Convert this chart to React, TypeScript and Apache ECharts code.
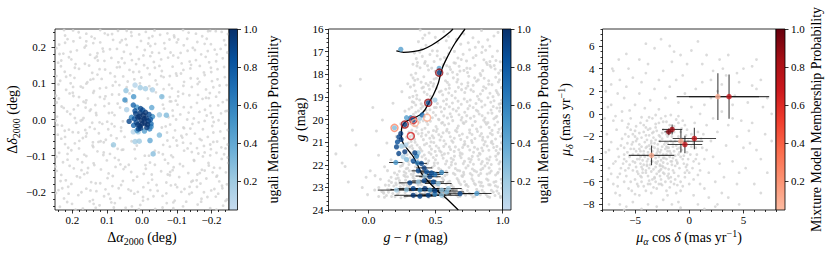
import React, { useEffect, useRef } from 'react';
import * as echarts from 'echarts';

// ---------------- Panel 1: spatial distribution ----------------
const spatialTicks = [-0.2, -0.1, 0, 0.1, 0.2];
// field stars: pairs of (dRA, dDec) in milli-degrees
const spatialField = [
  236,-241,201,-233,170,-246,122,-237,88,-229,47,-244,5,-236,-38,-247,-71,-231,-118,-240,-160,-235,-196,-245,-233,-238,
  224,-218,183,-209,141,-222,109,-212,63,-217,22,-205,-17,-220,-59,-211,-94,-224,-136,-206,-171,-219,-212,-213,-244,-221,
  240,-195,212,-186,160,-191,131,-198,85,-184,39,-193,-4,-187,-45,-197,-83,-182,-122,-192,-158,-186,-199,-196,-230,-183,
  219,-168,178,-160,146,-173,99,-162,55,-170,14,-158,-29,-166,-70,-174,-107,-159,-146,-169,-185,-163,-222,-171,
  245,-142,196,-135,157,-147,118,-138,76,-131,31,-145,-11,-136,-55,-143,-91,-132,-133,-148,-172,-139,-207,-133,-241,-146,
  227,-118,185,-110,139,-121,101,-113,62,-124,19,-108,-23,-119,-66,-111,-109,-123,-150,-114,-191,-120,-229,-109,
  238,-92,203,-85,166,-97,128,-88,92,-95,54,-83,-48,-91,-84,-99,-121,-86,-162,-94,-198,-82,-236,-96,
  221,-68,180,-59,142,-72,110,-63,-61,-70,-99,-58,-140,-66,-178,-73,-216,-61,-246,-69,
  242,-42,199,-35,161,-47,124,-38,89,-44,-72,-36,-113,-45,-152,-39,-189,-48,-225,-33,
  230,-17,189,-9,150,-21,114,-12,79,-19,-81,-14,-119,-22,-163,-8,-202,-18,-239,-11,
  244,8,206,15,168,4,131,12,95,18,-76,6,-110,14,-149,3,-186,11,-227,17,
  225,32,184,39,147,28,108,37,70,44,-63,30,-102,41,-141,34,-181,27,-219,39,
  239,58,197,65,160,53,121,62,86,69,49,55,-58,64,-97,52,-136,67,-174,57,-213,63,-244,54,
  218,82,176,91,138,79,103,88,65,95,28,80,-21,92,-62,84,-104,77,-143,90,-184,83,-223,94,
  235,107,194,115,157,103,116,112,78,119,41,105,2,116,-39,108,-80,120,-121,104,-160,113,-201,106,-238,117,
  222,132,181,140,143,129,106,138,64,145,25,131,-16,142,-57,134,-98,127,-139,141,-178,130,-217,139,
  241,157,203,166,164,154,127,163,88,170,50,156,9,167,-34,159,-75,171,-114,155,-155,164,-193,158,-232,169,
  226,182,187,191,149,179,111,188,72,195,33,181,-8,192,-49,184,-90,177,-131,190,-170,180,-209,193,-245,185,
  238,207,197,216,161,204,120,213,83,220,44,206,3,217,-38,209,-79,221,-120,205,-159,214,-198,208,-236,219,
  221,232,182,241,145,229,107,238,69,245,30,231,-11,242,-52,234,-93,227,-134,240,-173,230,-212,244,-247,236,
  215,-228,150,-226,78,-231,-3,-224,-90,-229,-170,-227,-240,-225,
  247,-203,174,-201,96,-206,12,-200,-70,-204,-143,-202,-219,-205,
  203,-178,120,-176,60,-181,-18,-175,-96,-180,-168,-177,-244,-179,
  232,-153,166,-151,84,-156,-5,-150,-80,-154,-159,-152,-216,-155,
  208,-128,137,-126,48,-131,-37,-125,-118,-129,-192,-127,
  246,-103,160,-101,78,-106,-8,-100,-89,-104,-175,-102,-246,-105,
  212,-78,140,-76,70,-81,15,-72,-80,-75,-158,-79,-228,-77,
  232,-53,170,-51,104,-56,50,-48,-90,-50,-166,-54,-236,-52,
  210,-28,136,-26,60,-22,-95,-30,-175,-27,-246,-29,
  248,-3,172,-1,100,-6,-98,0,-180,-4,-220,-2,
  215,22,150,24,86,19,55,-5,-88,25,-165,21,-240,23,
  245,47,168,49,95,44,-80,50,-158,46,-232,48,
  208,72,140,74,66,69,-40,75,-118,71,-195,73,
  240,97,160,99,84,94,6,100,-78,96,-160,98,-243,95,
  206,122,128,124,54,119,-22,125,-100,121,-180,123,
  233,147,152,149,72,144,-6,150,-88,146,-166,148,-236,145,
  210,172,130,174,58,169,-24,175,-104,171,-183,173,
  246,197,165,199,92,194,14,200,-66,196,-146,198,-226,195,
  214,222,136,224,58,219,-20,225,-104,221,-186,223,
  198,246,120,247,44,245,-36,246,-118,247,-196,245,
  191,-249,133,-244,29,-240,-90,-245,-214,-249,
  229,-190,105,-193,-24,-195,-137,-186,-208,-192,
  174,-140,53,-137,-81,-145,-180,-141,
  214,-95,110,-91,-60,-96,-143,-90,-214,-92,
  193,-66,125,-62,-118,-64,-196,-69,
  222,-31,159,-38,-128,-41,-205,-36,
  193,4,143,-9,-130,0,-203,6,
  231,36,162,33,-120,34,-196,38,
  181,62,105,64,-80,62,-192,59,
  198,90,121,86,44,89,-86,86,-205,89,
  218,118,140,112,22,111,-62,117,-140,114,-217,111,
  193,143,122,139,36,137,-37,143,-119,137,-198,143,
  232,163,108,162,29,164,-55,166,-137,160,-213,161,
  205,187,128,183,52,187,-29,185,-111,184,-189,189,
  221,212,140,211,63,213,-18,210,-100,213,-180,209,
  160,237,86,236,8,235,-73,238,-155,237,-229,242,
  -3,-214,67,-190,133,-176,187,-157,249,-130,172,-118,96,-149,25,-168,-42,-181,-113,-200,-188,-214,-231,-190,
  -157,-168,-88,-140,-28,-152,38,-125,111,-98,181,-80,221,-48,163,-29,87,-12,132,18,196,28,247,66,170,88,
  91,128,17,153,-55,120,-119,93,-184,60,-245,24,-206,-7,-139,-25,-73,-58,-37,-86,21,-82,73,-52,97,-27,63,33,
  108,57,36,72,-17,58,-60,41,-89,10,-57,-22,-101,-72,-149,-112,-203,-146,-178,-201,-127,-227,-59,-243,9,-248,
  81,-243,139,-233,211,-205,234,-170,155,-134,67,-112,-10,-126,-74,-152,-142,-172,-214,-158,-248,-120,-196,-99,
  -131,-80,-75,-121,-20,-100,30,-60,58,-84,79,12,122,-8,162,46,205,100,148,110,76,104,8,132,-50,148,-112,127,
  -165,104,-222,75,-199,131,-141,151,-82,185,-24,203,47,222,113,196,178,226,237,181,191,153,135,170,68,158,
  -4,177,-64,211,-130,223,-190,244,-240,206,-215,180,-152,192,-92,232,-30,230,31,241,98,234,160,216,224,247,
  246,120,199,74,134,40,119,-60,183,-36,243,-15,176,-3,214,-111,148,-196,91,-219,32,-197,-33,-212,-101,-187,
  -166,-148,-224,-134,-180,-91,-116,-50,-145,-12,-198,18,-161,68,-104,64,-43,97,-25,84,44,48,-68,-19,60,-32,
  -84,50,-134,19,-205,-62,-240,-80,-171,-57,-121,-24,85,-72,141,-63,
];
// ugali members: [dRA (deg), dDec (deg), membership probability]
const spatialMembers = [
  [0.046,0.08,0.25],[0.02,0.095,0.12],[0.005,0.088,0.2],[-0.01,0.085,0.18],[-0.03,0.082,0.15],[-0.057,0.063,0.3],
  [0.049,0.054,0.55],[0.024,0.063,0.5],[0.044,0.027,0.15],[0.025,0.04,0.75],[0.015,0.034,0.5],[-0.028,0.033,0.4],
  [-0.05,0.013,0.2],[-0.07,0.012,0.3],[-0.026,-0.02,0.55],[0.011,-0.034,0.2],[0.025,-0.034,0.12],[-0.007,-0.032,0.45],
  [-0.05,-0.043,0.3],[-0.023,-0.058,0.4],[0.082,-0.07,0.22],[0.02,-0.061,0.18],[0.008,-0.06,0.2],[-0.032,-0.095,0.28],
  [-0.026,-0.012,0.7],[0.024,-0.016,0.75],[0.03,0.006,0.6],[-0.03,0.008,0.55],[-0.022,-0.026,0.6],[0.014,-0.03,0.5],
  [-0.002,0.026,0.8],[0.022,0.002,0.85],[-0.024,0.0,0.8],[0.02,0.024,0.85],[-0.02,0.014,0.88],
  [0.005,0.018,0.95],[-0.004,0.012,1.0],[0.012,0.006,0.98],[-0.012,0.004,0.97],[0.002,-0.002,1.0],[0.016,-0.008,0.9],
  [-0.008,-0.01,1.0],[0.006,-0.018,0.96],[-0.018,-0.004,0.92],[0.01,-0.026,0.9],[-0.014,-0.022,0.95],[0.0,-0.012,1.0],
  [0.018,0.016,0.93],[-0.006,0.002,1.0],[0.008,0.008,0.99],[0.037,-0.005,0.9],[-0.01,0.02,0.97],[0.004,0.03,0.9],
  [-0.016,-0.014,0.98],[0.012,-0.014,0.96],[0.004,-0.024,0.94],
];

// ---------------- Panel 2: colour-magnitude diagram ----------------
const cmdXTicks = [0, 0.5, 1.0];
const cmdYTicks = [16, 17, 18, 19, 20, 21, 22, 23, 24];
// field stars: pairs of (g-r in milli-mag, g in centi-mag)
const cmdField = [
  385,1604,452,1618,561,1611,712,1622,843,1607,936,1631,404,1641,498,1637,655,1645,779,1639,890,1648,967,1615,
  372,1656,428,1672,517,1661,603,1683,688,1667,754,1692,821,1658,905,1676,962,1697,395,1689,476,1696,580,1652,641,1699,797,1681,874,1694,
  342,1706,401,1721,458,1713,536,1734,598,1709,667,1728,731,1741,802,1717,861,1736,925,1722,983,1745,365,1748,489,1744,566,1726,637,1749,706,1712,845,1704,951,1739,
  331,1756,384,1771,440,1762,497,1787,555,1758,612,1779,676,1765,739,1792,793,1760,852,1784,914,1769,971,1795,352,1796,418,1752,471,1773,589,1798,648,1751,712,1783,886,1757,945,1777,
  318,1803,367,1822,412,1811,463,1836,521,1807,574,1829,633,1816,694,1843,748,1809,806,1831,863,1818,921,1846,977,1824,339,1848,392,1835,446,1849,489,1821,601,1847,662,1801,781,1849,838,1805,949,1813,
  312,1856,349,1874,398,1861,437,1889,482,1853,529,1878,576,1866,622,1894,671,1858,718,1881,764,1869,813,1897,859,1855,906,1884,953,1872,992,1859,331,1898,415,1879,461,1897,553,1891,648,1876,741,1852,835,1887,929,1899,
  305,1903,338,1925,381,1914,426,1938,471,1907,514,1929,559,1918,603,1944,647,1905,692,1933,736,1921,781,1947,824,1911,869,1936,912,1924,958,1949,994,1915,322,1946,359,1908,404,1942,537,1945,626,1927,714,1909,802,1929,891,1904,975,1932,
  302,1954,335,1977,372,1962,417,1988,458,1957,501,1981,544,1966,588,1993,631,1955,675,1979,718,1968,761,1994,805,1959,848,1983,892,1971,935,1997,978,1963,318,1996,391,1951,438,1974,522,1999,566,1952,609,1975,697,1991,742,1952,826,1976,914,1958,957,1986,
  306,2004,341,2027,379,2012,421,2039,461,2008,503,2031,545,2016,586,2043,628,2005,670,2029,712,2018,754,2046,796,2009,838,2033,880,2021,922,2048,964,2011,996,2037,323,2047,398,2045,442,2022,484,2049,526,2001,567,2024,649,2049,691,2002,775,2026,859,2003,901,2035,943,2024,
  301,2055,336,2078,371,2063,409,2089,447,2056,486,2081,524,2067,563,2094,601,2058,640,2083,678,2071,717,2097,755,2059,794,2084,832,2072,871,2098,909,2061,948,2086,986,2074,318,2097,354,2052,428,2069,466,2099,505,2053,543,2076,582,2051,659,2054,736,2079,813,2053,851,2091,890,2077,967,2057,
  296,2104,329,2128,362,2113,398,2139,433,2106,469,2131,505,2117,541,2144,576,2108,612,2133,648,2121,684,2147,719,2109,755,2135,791,2123,827,2149,862,2111,898,2136,934,2124,970,2148,992,2103,314,2148,347,2101,381,2124,451,2146,487,2102,523,2126,594,2149,630,2101,702,2124,773,2102,845,2126,916,2102,952,2137,
  287,2156,318,2179,349,2164,383,2188,416,2157,449,2182,483,2168,516,2193,549,2158,583,2184,616,2171,649,2196,683,2159,716,2185,749,2173,783,2198,816,2161,849,2186,883,2174,916,2199,949,2162,982,2187,301,2199,333,2151,366,2176,399,2165,433,2197,466,2153,499,2178,566,2152,633,2178,699,2152,766,2177,833,2153,899,2179,966,2152,
  238,2207,265,2231,291,2215,318,2242,349,2209,381,2233,412,2218,444,2246,475,2211,507,2236,538,2222,570,2248,601,2212,633,2238,664,2224,696,2249,727,2214,759,2239,790,2226,822,2247,853,2216,885,2241,916,2228,948,2245,979,2219,214,2244,252,2203,304,2227,333,2248,365,2202,428,2225,491,2203,554,2229,617,2201,680,2227,743,2204,806,2231,869,2205,
  152,2271,188,2294,221,2259,249,2283,276,2268,303,2296,331,2256,358,2281,386,2269,413,2297,441,2258,468,2284,496,2271,523,2298,551,2259,578,2286,606,2273,633,2299,661,2261,688,2287,716,2274,743,2296,771,2262,798,2288,826,2276,853,2295,881,2263,908,2289,936,2277,963,2298,990,2264,168,2255,236,2297,290,2253,344,2276,399,2254,454,2278,509,2253,592,2277,702,2252,
  98,2318,133,2336,164,2309,197,2341,226,2322,257,2304,284,2338,312,2317,339,2343,367,2308,394,2331,422,2319,449,2345,477,2311,504,2334,532,2321,559,2344,587,2307,614,2332,642,2324,669,2341,697,2312,724,2335,752,2326,779,2342,807,2309,834,2333,862,2323,889,2340,917,2313,944,2336,972,2327,995,2304,118,2344,180,2327,241,2346,298,2303,354,2327,435,2302,518,2306,
  -245,2152,-212,1851,-198,2192,-176,2208,-152,2276,-121,2047,-95,2113,-62,1822,-48,2301,-19,2255,12,2227,31,1947,45,2312,58,2051,74,2158,88,2264,103,2002,119,2209,136,2104,151,2291,167,2178,182,1928,193,2236,206,2075,221,2158,239,2019,248,1877,262,2121,271,1963,283,2078,292,1842,257,2194,274,2252,231,2281,206,2288,141,2226,76,2301,109,2321,48,2248,-8,2332,
  356,1731,423,1744,512,1718,583,1762,627,1791,734,1773,781,1727,879,1748,938,1761,
  332,1816,409,1857,486,1842,542,1874,603,1862,659,1834,727,1862,792,1816,852,1872,897,1829,961,1881,
  326,1922,392,1931,448,1919,505,1947,581,1933,668,1919,755,1939,842,1919,931,1943,987,1929,
  344,1987,408,2006,476,1992,553,2013,619,1988,706,2014,787,1986,871,2012,948,1991,
  330,2068,394,2074,457,2083,533,2091,610,2076,688,2088,772,2066,853,2079,924,2067,
  322,2116,388,2132,457,2118,530,2138,603,2121,673,2134,742,2118,814,2131,885,2117,958,2119,
  296,2186,362,2191,426,2174,490,2192,557,2171,620,2189,691,2169,758,2188,823,2177,887,2193,957,2178,
  278,2238,336,2226,398,2241,455,2231,516,2244,580,2229,645,2243,709,2233,772,2246,838,2222,904,2236,968,2233,
  203,2281,262,2289,318,2276,371,2289,427,2276,482,2292,539,2279,621,2291,676,2279,731,2287,789,2283,842,2279,897,2288,951,2274,
  148,2321,215,2332,272,2323,326,2331,381,2319,437,2333,491,2322,546,2329,601,2319,656,2334,711,2326,766,2332,821,2319,877,2331,931,2321,984,2339,
  361,1763,447,1781,526,1790,604,1768,682,1786,758,1775,833,1797,907,1761,986,1783,
  345,1827,428,1841,505,1818,588,1836,666,1823,742,1838,819,1825,897,1844,969,1834,
  360,1893,454,1866,507,1862,598,1883,694,1868,783,1876,876,1862,970,1890,
  352,1936,447,1921,491,1947,582,1911,671,1949,759,1914,847,1945,937,1917,982,1948,
  352,1968,429,1959,483,1969,561,1984,655,1962,733,1983,816,1964,869,1994,921,1972,999,1978,
  361,2034,433,2011,512,2042,598,2019,662,2039,727,2009,806,2042,891,2014,975,2043,313,2018,
  343,2088,398,2061,475,2072,556,2059,621,2094,700,2064,769,2093,843,2062,920,2096,997,2062,311,2075,
  338,2141,417,2112,497,2141,561,2119,639,2141,711,2113,784,2145,853,2138,928,2108,983,2131,306,2122,
  310,2169,372,2158,440,2193,507,2159,574,2197,641,2162,707,2195,774,2163,841,2196,907,2166,973,2196,
  280,2218,337,2236,396,2212,460,2238,523,2216,586,2242,648,2217,711,2243,775,2219,837,2239,900,2214,962,2238,229,2229,263,2247,
  170,2278,230,2270,286,2291,340,2262,394,2288,449,2266,505,2290,560,2268,616,2292,670,2269,725,2290,781,2271,836,2293,892,2268,947,2293,996,2281,125,2290,205,2262,
  113,2326,171,2340,228,2311,270,2343,325,2312,384,2343,408,2314,463,2337,520,2314,574,2342,629,2311,684,2339,738,2314,793,2339,848,2313,904,2344,958,2316,985,2345,75,2340,142,2308,
  420,1627,596,1633,744,1661,851,1679,382,1702,513,1697,692,1735,906,1744,
];
// ugali members: [g-r, g, probability, g-r error]
const cmdMembers = [
  [0.24,16.9,0.45,0],[0.527,17.74,0.4,0],[0.527,17.93,0.95,0],[0.495,19.14,0.2,0],[0.445,19.26,0.92,0],[0.4,19.8,0.7,0],
  [0.283,19.92,0.45,0],[0.315,19.92,0.6,0],[0.383,19.95,0.2,0],[0.333,20.03,0.92,0],[0.27,20.22,0.97,0],[0.193,20.37,0.3,0],
  [0.24,20.62,0.95,0],[0.225,20.77,0.9,0],[0.243,20.88,0.95,0],[0.215,20.99,0.85,0],[0.208,21.21,0.9,0],[0.245,21.18,0.2,0],
  [0.278,21.13,0.15,0],[0.27,21.43,0.95,0],[0.225,21.5,0.9,0],[0.258,21.65,0.15,0],[0.283,21.77,0.3,0],[0.345,21.47,0.9,0],
  [0.358,21.62,0.6,0],[0.37,21.47,0.25,0],[0.333,21.83,0.85,0],[0.365,21.92,0.6,0.04],[0.203,21.9,0.5,0.05],[0.395,21.94,0.9,0.04],
  [0.415,22.14,0.95,0.06],[0.37,22.27,0.9,0.05],[0.433,22.31,0.85,0.06],[0.47,22.36,0.85,0.07],[0.495,22.43,0.7,0.06],
  [0.545,22.34,0.55,0.05],[0.42,22.5,0.2,0.07],[0.458,22.53,0.9,0.08],[0.308,22.8,0.9,0.08],[0.37,22.76,0.2,0.08],
  [0.415,22.71,0.9,0.09],[0.483,22.76,0.85,0.08],[0.52,22.83,0.25,0.1],[0.208,23.12,0.2,0.14],[0.283,23.1,0.25,0.12],
  [0.333,23.05,0.9,0.12],[0.383,23.12,0.55,0.12],[0.42,23.05,0.95,0.1],[0.458,23.12,0.5,0.11],[0.495,23.15,0.9,0.12],
  [0.545,23.12,0.25,0.12],[0.595,23.05,0.2,0.1],[0.583,23.2,0.3,0.13],[0.333,23.35,0.95,0.14],[0.383,23.39,0.9,0.12],
  [0.445,23.35,0.9,0.13],[0.495,23.3,0.6,0.12],[0.545,23.35,0.25,0.13],[0.683,23.28,0.9,0.1],[0.808,23.27,0.5,0.11],
];
// mixture-model members: [g-r, g, probability]
const cmdMixtureMembers = [
  [0.527,17.93,0.9],[0.445,19.26,0.88],[0.333,20.03,0.7],[0.27,20.22,0.85],
  [0.345,20.15,0.1],[0.437,19.92,0.1],[0.193,20.37,0.25],[0.315,20.73,0.65],
];
const isochroneMain = [
  [0.72,16.0],[0.645,16.63],[0.583,17.3],[0.545,17.81],[0.52,18.4],[0.483,18.92],[0.448,19.28],[0.42,19.58],
  [0.383,19.8],[0.333,19.95],[0.29,20.05],[0.26,20.2],[0.245,20.45],[0.245,20.75],[0.258,21.05],[0.295,21.35],
  [0.333,21.64],[0.365,22.0],[0.395,22.38],[0.458,22.82],[0.52,23.19],[0.583,23.5],[0.67,24.0],
];
const isochroneHB = [
  [0.207,16.97],[0.26,17.03],[0.33,17.0],[0.407,16.9],[0.47,16.72],[0.53,16.49],[0.61,16.12],[0.63,16.0],
];

// ---------------- Panel 3: proper motions ----------------
const pmXTicks = [-5, 0, 5];
const pmYTicks = [-8, -6, -4, -2, 0, 2, 4, 6];
// field stars: pairs (pmra cos dec, pmdec) in 0.1 mas/yr
const pmField = [
  -30,-35,-22,-31,-38,-40,-27,-46,-35,-26,-18,-38,-42,-33,-25,-22,-33,-49,-15,-29,-45,-44,-20,-44,-37,-19,-28,-38,-12,-41,
  -41,-25,-24,-52,-32,-30,-17,-24,-47,-36,-29,-27,-36,-45,-21,-36,-40,-50,-14,-33,-26,-41,-33,-21,-44,-29,-19,-49,-31,-43,
  -23,-27,-38,-34,-10,-36,-28,-51,-35,-38,-16,-45,-43,-41,-26,-32,-39,-23,-21,-40,-31,-47,-12,-28,-46,-31,-24,-36,-34,-29,
  -18,-33,-37,-48,-27,-24,-41,-38,-15,-39,-29,-42,-22,-48,-36,-31,-13,-46,-33,-37,-25,-29,-44,-47,-20,-26,-30,-53,-39,-42,
  -17,-35,-27,-45,-35,-24,-23,-39,-48,-40,-11,-31,-32,-26,-42,-45,-26,-49,-19,-30,
  -60,-30,-55,-45,-52,-18,-58,-55,-48,-62,-40,-68,-30,-66,-18,-65,-8,-60,0,-52,4,-42,6,-30,2,-18,-4,-10,-12,-5,-22,-2,
  -34,-4,-45,-8,-54,-14,-62,-22,-65,-38,-63,-48,-50,-58,-36,-62,-22,-60,-10,-55,-3,-47,1,-36,-1,-24,-8,-16,-18,-10,-28,-8,
  -40,-12,-50,-20,-57,-34,-52,-50,-44,-56,-26,-58,-14,-52,-6,-40,-4,-28,-14,-16,-24,-14,-36,-13,-46,-17,-53,-27,-58,-42,
  -47,-53,-32,-56,-19,-57,-9,-48,-2,-34,-6,-22,-16,-13,-30,-15,-42,-16,-49,-24,-55,-38,-49,-47,-38,-55,-23,-53,-11,-44,
  -7,-32,-10,-20,-21,-18,-34,-17,-44,-21,-51,-31,-46,-40,-40,-52,-27,-55,-15,-50,-8,-38,-9,-25,-20,-20,-38,-14,-57,-26,
  -61,-44,-54,-60,-42,-64,-28,-62,-14,-62,-4,-56,3,-48,7,-36,5,-22,-2,-14,-10,-8,-26,-4,-39,-6,-49,-11,-59,-18,-66,-31,
  -64,-53,-56,-66,-35,-70,-21,-68,-6,-64,8,-54,9,-44,12,-30,8,-16,-6,-6,-17,-1,-31,-1,-44,-3,-56,-9,-67,-14,-68,-42,
  -60,-60,-46,-72,-12,-70,10,-62,14,-40,11,-22,-54,-4,-62,-6,
  -72,-25,-74,-48,-70,-62,-64,-72,-52,-78,-38,-80,-24,-76,-10,-78,4,-72,14,-66,18,-52,22,-38,20,-24,16,-10,10,0,2,6,
  -10,10,-22,14,-36,12,-50,8,-62,2,-70,-6,-76,-18,-68,-70,-58,-82,-30,-82,-16,-80,8,-80,24,-60,28,-44,26,-16,22,-4,
  14,8,-4,18,-18,24,-32,22,-46,18,-60,14,-72,8,-77,-34,-75,-58,18,-74,30,-70,34,-28,30,2,20,14,6,22,-12,30,-28,30,
  -44,28,-58,24,-66,18,-78,-4,32,-56,40,-42,36,-10,26,20,12,28,-6,34,-24,38,-40,36,-52,32,-64,30,-72,26,44,-20,40,8,
  30,26,-2,44,-16,46,-38,44,-56,40,-70,38,-75,6,36,-74,44,-62,50,-30,48,-6,42,16,20,30,-8,52,
  -58,53,-46,48,-32,58,-18,60,2,56,12,44,22,38,34,34,46,28,54,10,58,-8,56,-26,52,-48,46,-80,60,-62,66,-40,70,-18,
  68,6,62,22,50,40,28,48,14,-84,-64,-80,-74,-80,44,36,58,42,66,-70,72,-52,8,64,-26,66,-40,62,62,48,24,-82,76,0,
  36,52,-8,-83,46,-52,66,30,
  -25,-17,-31,-12,-16,-20,-9,-30,-39,-29,-48,-22,-52,-36,-50,-43,-43,-52,-34,-58,-20,-55,-13,-58,-5,-44,-1,-40,
  -27,-34,-29,-31,-20,-33,-24,-43,-35,-42,-38,-37,-31,-39,-17,-42,-13,-37,-24,-47,-30,-44,-39,-46,-45,-38,-40,-30,
  -34,-33,-21,-29,-15,-26,-27,-20,-33,-16,-45,-33,-52,-25,-54,-31,-48,-51,-38,-62,-25,-63,-11,-63,-2,-50,2,-29,
  -7,-13,-21,-7,-31,-9,-42,-10,-56,-20,-60,-36,-59,-50,-44,-60,-31,-60,-17,-60,-4,-52,6,-40,4,-26,-3,-19,
  -29,-33,-24,-39,-34,-42,-20,-30,-37,-28,-27,-50,-42,-36,-16,-42,-31,-23,-25,-46,-39,-45,-22,-25,-35,-51,-46,-27,
  -19,-53,-13,-24,-43,-49,-28,-19,-49,-33,-11,-43,-32,-57,-40,-19,-17,-56,-52,-42,-21,-15,-56,-48,-9,-34,-37,-59,
  -45,-55,-5,-37,-26,-62,-50,-15,-14,-11,-60,-40,-33,-65,-2,-45,-47,-64,-57,-12,-24,-7,-63,-28,-8,-68,-70,-44,
  -37,-3,-72,-53,-10,-2,-66,-64,0,-62,-50,-71,5,-8,-28,4,-41,5,-55,3,-68,-2,10,-50,16,-32,13,-18,4,-58,-20,-72,
  -74,-32,-66,-56,-53,-68,-71,40,-65,48,31,40,16,52,-14,55,40,-4,55,-15,62,-32,26,-80,-44,-84,76,-24,72,14,58,25,
  -77,20,-60,-85,38,-88,
];
// mixture-model members: [pmra cos dec, pmdec, probability, pmra err, pmdec err]
const pmMembers = [
  [-3.48,-3.67,0.1,2.1,0.87],[-0.77,-2.42,0.1,2.05,1.0],[2.64,1.52,0.1,3.8,2.07],[3.67,1.52,0.72,3.7,1.95],
  [-0.4,-2.71,0.72,1.6,0.77],[0.47,-2.18,0.72,2.0,0.96],[-1.58,-1.38,0.85,0.93,0.44],[-1.89,-1.59,0.92,0.4,0.3],
];

const colorbarTicks = [0.2, 0.4, 0.6, 0.8, 1.0];
const BLUES = ['#c6dbef', '#9ecae1', '#6baed6', '#4292c6', '#2171b5', '#08519c', '#08306b'];
const REDS = ['#fcbba1', '#fc9272', '#fb6a4a', '#ef3b2c', '#cb181d', '#a50f15', '#67000d'];

const SERIF = 'Liberation Serif, DejaVu Serif, serif';
const TICK_FONT = 11;
const NAME_FONT = 14;

function hexRgb(h: string) {
  return [parseInt(h.slice(1, 3), 16), parseInt(h.slice(3, 5), 16), parseInt(h.slice(5, 7), 16)];
}
function cmap(stops: string[], v: number) {
  const t = Math.min(1, Math.max(0, (v - 0.05) / 0.95));
  const f = t * (stops.length - 1);
  const i = Math.min(stops.length - 2, Math.floor(f));
  const u = f - i;
  const a = hexRgb(stops[i]);
  const b = hexRgb(stops[i + 1]);
  const c = a.map((x, k) => Math.round(x + (b[k] - x) * u));
  return `rgb(${c[0]},${c[1]},${c[2]})`;
}
function pairs(arr: number[], sx: number, sy: number) {
  const out: number[][] = [];
  for (let i = 0; i + 1 < arr.length; i += 2) out.push([arr[i] * sx, arr[i + 1] * sy]);
  return out;
}
function minorTicks(from: number, to: number, step: number, majors: number[]) {
  const out: number[] = [];
  const n = Math.round((to - from) / step);
  for (let i = 0; i <= n; i++) {
    const v = +(from + i * step).toFixed(6);
    if (!majors.some((m) => Math.abs(m - v) < 1e-6)) out.push(v);
  }
  return out;
}
const fmt1 = (v: number) => (v < -1e-9 ? '\u2212' : '') + Math.abs(v).toFixed(1);
const fmt0 = (v: number) => (v < -1e-9 ? '\u2212' : '') + Math.abs(v).toFixed(0);

const tickLine = { color: '#000', width: 0.8 };

function majorAxis(gridIndex: number, min: number, max: number, position: string, ticks: number[], fmt: (v: number) => string, margin: number, inverse = false) {
  return {
    type: 'value', gridIndex, min, max, position, inverse,
    splitLine: { show: false },
    axisLine: { show: false, onZero: false },
    axisTick: { show: true, inside: false, length: 3.5, customValues: ticks, lineStyle: tickLine },
    axisLabel: { show: true, customValues: ticks, formatter: fmt, margin, fontFamily: SERIF, fontSize: TICK_FONT, color: '#000' },
  };
}
function minorAxis(gridIndex: number, min: number, max: number, position: string, ticks: number[], inverse = false) {
  return {
    type: 'value', gridIndex, min, max, position, inverse,
    splitLine: { show: false },
    axisLine: { show: false, onZero: false },
    axisTick: { show: true, inside: false, length: 2, customValues: ticks, lineStyle: tickLine },
    axisLabel: { show: false },
  };
}

const GRID_TOP = 29;
const GRID_H = 181;
const panels = [
  { left: 55, width: 174, cbw: 8.5 },
  { left: 328.5, width: 174, cbw: 8.5 },
  { left: 602.5, width: 173.5, cbw: 9 },
];

const rich = {
  r: { fontFamily: SERIF, fontSize: NAME_FONT, fill: '#000', lineHeight: 18 },
  i: { fontFamily: SERIF, fontSize: NAME_FONT, fontStyle: 'italic', fill: '#000', lineHeight: 18 },
  s: { fontFamily: SERIF, fontSize: 10, fill: '#000', lineHeight: 10, verticalAlign: 'bottom' },
  si: { fontFamily: SERIF, fontSize: 10, fontStyle: 'italic', fill: '#000', lineHeight: 10, verticalAlign: 'bottom' },
  p: { fontFamily: SERIF, fontSize: 10, fill: '#000', lineHeight: 10, verticalAlign: 'top' },
};
function nameText(x: number, y: number, text: string, vertical: boolean) {
  return {
    type: 'text', x, y, rotation: vertical ? Math.PI / 2 : 0, silent: true, z: 100,
    style: { text, rich, align: 'center', verticalAlign: 'middle', fontFamily: SERIF, fontSize: NAME_FONT, fill: '#000' },
  };
}

function colorbarSeries(idx: number, stops: string[]) {
  return {
    type: 'custom', xAxisIndex: 6 + idx, yAxisIndex: 6 + idx, silent: true,
    data: [[0, 0.05]],
    renderItem: (_p: any, api: any) => {
      const a = api.coord([0, 1]);
      const b = api.coord([1, 0.05]);
      return {
        type: 'rect',
        shape: { x: a[0], y: a[1], width: b[0] - a[0], height: b[1] - a[1] },
        style: {
          fill: new echarts.graphic.LinearGradient(0, 1, 0, 0, stops.map((c, k) => ({ offset: k / (stops.length - 1), color: c }))),
          stroke: '#000', lineWidth: 0.8,
        },
      };
    },
  };
}

function buildOption() {
  const grids: any[] = [];
  panels.forEach((p) => {
    grids.push({ left: p.left, top: GRID_TOP, width: p.width, height: GRID_H, show: true, borderColor: '#000', borderWidth: 0.8, backgroundColor: 'transparent', containLabel: false, outerBoundsMode: 'none' });
  });
  panels.forEach((p) => {
    grids.push({ left: p.left + p.width, top: GRID_TOP, width: p.cbw, height: GRID_H, show: false, containLabel: false, outerBoundsMode: 'none' });
  });

  const sMinor = minorTicks(-0.24, 0.24, 0.02, spatialTicks);
  const xAxes: any[] = [
    majorAxis(0, -0.25, 0.25, 'bottom', spatialTicks, fmt1, 4.5, true),
    minorAxis(0, -0.25, 0.25, 'bottom', sMinor, true),
    majorAxis(1, -0.3, 1.0, 'bottom', cmdXTicks, fmt1, 4.5),
    minorAxis(1, -0.3, 1.0, 'bottom', minorTicks(-0.3, 1.0, 0.1, cmdXTicks)),
    majorAxis(2, -8, 8, 'bottom', pmXTicks, fmt0, 4.5),
    minorAxis(2, -8, 8, 'bottom', minorTicks(-8, 8, 1, pmXTicks)),
    { type: 'value', gridIndex: 3, min: 0, max: 1, show: false },
    { type: 'value', gridIndex: 4, min: 0, max: 1, show: false },
    { type: 'value', gridIndex: 5, min: 0, max: 1, show: false },
  ];
  const cbAxis = (g: number) => ({
    type: 'value', gridIndex: g, min: 0.05, max: 1, position: 'right',
    splitLine: { show: false }, axisLine: { show: false, onZero: false },
    axisTick: { show: true, inside: false, length: 3.5, customValues: colorbarTicks, lineStyle: tickLine },
    axisLabel: { show: true, customValues: colorbarTicks, formatter: fmt1, margin: 6, fontFamily: SERIF, fontSize: TICK_FONT, color: '#000' },
  });
  const yAxes: any[] = [
    majorAxis(0, -0.25, 0.25, 'left', spatialTicks, fmt1, 9),
    minorAxis(0, -0.25, 0.25, 'left', sMinor),
    majorAxis(1, 16, 24, 'left', cmdYTicks, fmt0, 5, true),
    minorAxis(1, 16, 24, 'left', minorTicks(16, 24, 0.2, cmdYTicks), true),
    majorAxis(2, -8.5, 7.5, 'left', pmYTicks, fmt0, 8),
    minorAxis(2, -8.5, 7.5, 'left', minorTicks(-8.5, 7.5, 0.5, pmYTicks)),
    cbAxis(3), cbAxis(4), cbAxis(5),
  ];

  const byProb = (a: number[], b: number[]) => a[2] - b[2];
  const GRAY = '#d2d2d2';
  const series: any[] = [
    {
      type: 'scatter', xAxisIndex: 0, yAxisIndex: 0, silent: true, clip: true, z: 1,
      symbolSize: 2.8, itemStyle: { color: GRAY }, data: pairs(spatialField, 0.001, 0.001),
    },
    {
      type: 'scatter', xAxisIndex: 0, yAxisIndex: 0, silent: true, clip: true, z: 3, symbolSize: 5.5,
      data: [...spatialMembers].sort(byProb).map((m) => ({ value: [m[0], m[1]], itemStyle: { color: cmap(BLUES, m[2]) } })),
    },
    {
      type: 'scatter', xAxisIndex: 2, yAxisIndex: 2, silent: true, clip: true, z: 1,
      symbolSize: 3, itemStyle: { color: GRAY }, data: pairs(cmdField, 0.001, 0.01),
    },
    {
      type: 'custom', xAxisIndex: 2, yAxisIndex: 2, silent: true, clip: true, z: 2,
      data: cmdMembers.filter((m) => m[3] > 0).map((m) => [m[0], m[1], m[3]]),
      renderItem: (_p: any, api: any) => {
        const x = api.value(0), y = api.value(1), e = api.value(2);
        const a = api.coord([x - e, y]);
        const b = api.coord([x + e, y]);
        return { type: 'line', shape: { x1: a[0], y1: a[1], x2: b[0], y2: b[1] }, style: { stroke: 'rgba(0,0,0,0.8)', lineWidth: 1 } };
      },
    },
    {
      type: 'line', xAxisIndex: 2, yAxisIndex: 2, silent: true, z: 2, showSymbol: false, smooth: 0.2,
      lineStyle: { color: '#000', width: 1.3 }, data: isochroneMain,
    },
    {
      type: 'line', xAxisIndex: 2, yAxisIndex: 2, silent: true, z: 2, showSymbol: false, smooth: 0.2,
      lineStyle: { color: '#000', width: 1.3 }, data: isochroneHB,
    },
    {
      type: 'scatter', xAxisIndex: 2, yAxisIndex: 2, silent: true, z: 3, symbolSize: 5.2,
      data: [...cmdMembers].sort(byProb).map((m) => ({ value: [m[0], m[1]], itemStyle: { color: cmap(BLUES, m[2]) } })),
    },
    {
      type: 'scatter', xAxisIndex: 2, yAxisIndex: 2, silent: true, z: 4, symbolSize: 7,
      data: cmdMixtureMembers.map((m) => ({
        value: [m[0], m[1]],
        itemStyle: { color: 'rgba(0,0,0,0)', borderColor: cmap(REDS, m[2]), borderWidth: 1.5 },
      })),
    },
    {
      type: 'scatter', xAxisIndex: 4, yAxisIndex: 4, silent: true, clip: true, z: 1,
      symbolSize: 2.8, itemStyle: { color: GRAY }, data: pairs(pmField, 0.1, 0.1),
    },
    {
      type: 'custom', xAxisIndex: 4, yAxisIndex: 4, silent: true, clip: true, z: 2,
      data: pmMembers.map((m) => [m[0], m[1], m[3], m[4]]),
      renderItem: (_p: any, api: any) => {
        const x = api.value(0), y = api.value(1), ex = api.value(2), ey = api.value(3);
        const a = api.coord([x - ex, y]);
        const b = api.coord([x + ex, y]);
        const c = api.coord([x, y - ey]);
        const d = api.coord([x, y + ey]);
        const st = { stroke: 'rgba(20,20,20,0.8)', lineWidth: 1.1 };
        return {
          type: 'group',
          children: [
            { type: 'line', shape: { x1: a[0], y1: a[1], x2: b[0], y2: b[1] }, style: st },
            { type: 'line', shape: { x1: c[0], y1: c[1], x2: d[0], y2: d[1] }, style: st },
          ],
        };
      },
    },
    {
      type: 'scatter', xAxisIndex: 4, yAxisIndex: 4, silent: true, z: 3, symbolSize: 5.5,
      data: [...pmMembers].sort(byProb).map((m) => ({ value: [m[0], m[1]], itemStyle: { color: cmap(REDS, m[2]) } })),
    },
    colorbarSeries(0, BLUES),
    colorbarSeries(1, BLUES),
    colorbarSeries(2, REDS),
  ];

  const cy = GRID_TOP + GRID_H / 2;
  const graphic = [
    nameText(12, cy, '{r|\u0394}{i|\u03b4}{s|2000}{r| (deg)}', true),
    nameText(142, 237, '{r|\u0394}{i|\u03b1}{s|2000}{r| (deg)}', false),
    nameText(273, cy, '{r|ugali Membership Probability}', true),
    nameText(300, cy, '{i|g}{r| (mag)}', true),
    nameText(415.5, 237, '{i|g}{r| \u2212 }{i|r}{r| (mag)}', false),
    nameText(543, cy, '{r|ugali Membership Probability}', true),
    nameText(565, cy, '{i|\u03bc}{si|\u03b4}{r| (mas yr}{p|\u22121}{r|)}', true),
    nameText(689, 237, '{i|\u03bc}{si|\u03b1}{r| cos }{i|\u03b4}{r| (mas yr}{p|\u22121}{r|)}', false),
    nameText(816, cy, '{r|Mixture Model Membership Probability}', true),
  ];

  return {
    animation: false,
    backgroundColor: '#fff',
    grid: grids,
    xAxis: xAxes,
    yAxis: yAxes,
    series,
    graphic,
  };
}

export default function App() {
  const ref = useRef<HTMLDivElement>(null);
  useEffect(() => {
    document.body.style.margin = '0';
    if (!ref.current) return;
    const chart = echarts.init(ref.current, undefined, { renderer: 'svg' });
    chart.setOption(buildOption() as any);
    return () => chart.dispose();
  }, []);
  return <div ref={ref} style={{ position: 'absolute', left: 0, top: 0, width: 830, height: 253, background: '#fff' }} />;
}
